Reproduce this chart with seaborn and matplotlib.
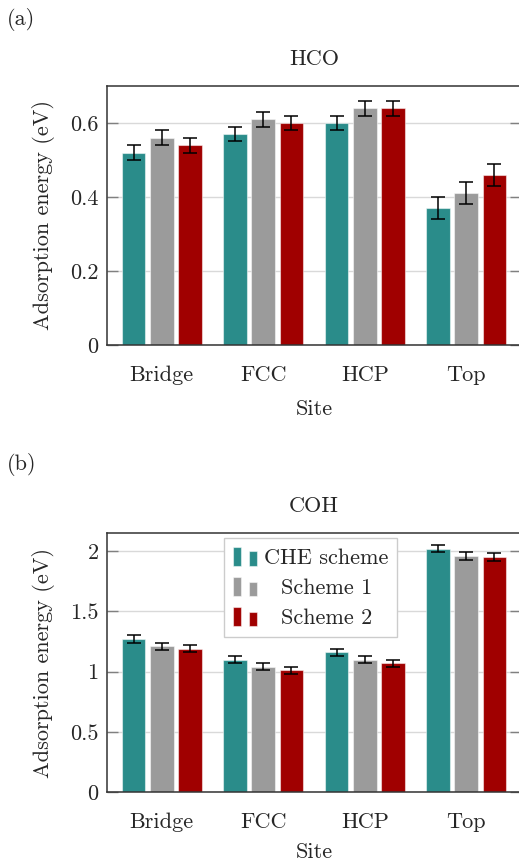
import pandas as pd
import seaborn as sns
import matplotlib.pyplot as plt
from matplotlib.patches import Rectangle
from matplotlib.legend_handler import HandlerBase
from matplotlib.offsetbox import HPacker, DrawingArea
from matplotlib.ticker import FuncFormatter

# Datos
sites = ["Bridge", "FCC", "HCP", "Top"]
schemes = ["CHE scheme", "Scheme 1", "Scheme 2"]

hco_che = [0.52, 0.57, 0.60, 0.37]
hco_s1 = [0.56, 0.61, 0.64, 0.41]
hco_s2 = [0.54, 0.60, 0.64, 0.46]
hco_err_che = [0.02, 0.02, 0.02, 0.03]
hco_err_s1 = [0.02, 0.02, 0.02, 0.03]
hco_err_s2 = [0.02, 0.02, 0.02, 0.03]

coh_che = [1.27, 1.10, 1.16, 2.02]
coh_s1 = [1.21, 1.04, 1.10, 1.96]
coh_s2 = [1.19, 1.01, 1.07, 1.95]
coh_err_che = [0.03, 0.03, 0.03, 0.03]
coh_err_s1 = [0.03, 0.03, 0.03, 0.03]
coh_err_s2 = [0.03, 0.03, 0.03, 0.03]

colores = ["#2a8c8a", "#9b9b9b", "#a00000"]

sns.set_style("white")
plt.rcParams["font.family"] = ["cmr10", "DejaVu Serif"]
plt.rcParams["axes.formatter.use_mathtext"] = True
plt.rcParams["font.size"] = 16


def armar_df(che, s1, s2, e_che, e_s1, e_s2):
    filas = []
    for nombre, vals, errs in zip(schemes, [che, s1, s2], [e_che, e_s1, e_s2]):
        for s, v, e in zip(sites, vals, errs):
            filas.append({"Site": s, "Scheme": nombre, "Energy": v, "Err": e})
    return pd.DataFrame(filas)


class DosBarras(HandlerBase):
    # dos barritas por entrada, como en la leyenda ybar de pgfplots
    def create_artists(self, legend, orig_handle, xdescent, ydescent,
                       width, height, fontsize, trans):
        c = orig_handle.get_facecolor()
        w = width * 0.34
        r1 = Rectangle((-xdescent, -ydescent), w, height, facecolor=c,
                       edgecolor=(1, 1, 1, 0.5), lw=0.8, transform=trans)
        r2 = Rectangle((-xdescent + width - w, -ydescent), w, height * 0.76,
                       facecolor=c, edgecolor=(1, 1, 1, 0.5), lw=0.8,
                       transform=trans)
        return [r1, r2]


def dibujar(ax, df, ylim, yticks, titulo, pad_site):
    ax.set_axisbelow(True)
    ax.yaxis.grid(True, color="#d9d9d9", lw=1)
    sns.barplot(data=df, x="Site", y="Energy", hue="Scheme", order=sites,
                hue_order=schemes, palette=colores, saturation=1,
                width=0.83, gap=0.16, errorbar=None,
                edgecolor=(1, 1, 1, 0.5), linewidth=0.8,
                legend=False, ax=ax)
    # barras ordenadas por posicion: sitio, luego esquema
    barras = sorted(ax.patches, key=lambda p: p.get_x())
    orden = df.set_index(["Site", "Scheme"]).loc[
        [(s, h) for s in sites for h in schemes]]
    xs = [p.get_x() + p.get_width() / 2 for p in barras]
    ax.errorbar(xs, orden["Energy"].values, yerr=orden["Err"].values,
                fmt="none", ecolor="black", elinewidth=1.1, capsize=5,
                capthick=1.1, zorder=5)
    ax.set_xlim(-0.54, 3.54)
    ax.set_ylim(*ylim)
    ax.set_yticks(yticks)
    ax.yaxis.set_major_formatter(FuncFormatter(lambda v, p: "%g" % v))
    ax.tick_params(axis="y", which="both", direction="in", length=8,
                   color="#808080", width=1, left=True, right=True, pad=6,
                   labelsize=16)
    ax.tick_params(axis="x", length=0, pad=15, labelsize=16)
    for lado in ["top", "left", "bottom"]:
        ax.spines[lado].set_color("#333333")
        ax.spines[lado].set_linewidth(1.1)
    ax.spines["right"].set_visible(False)
    ax.set_title(titulo, fontsize=16, pad=15)
    ax.set_xlabel("Site", fontsize=16, labelpad=pad_site)
    ax.set_ylabel("Adsorption energy (eV)", fontsize=16, labelpad=11)


fig = plt.figure(figsize=(5.19, 8.64), dpi=100)
ax1 = fig.add_axes([0.206, 0.6007, 0.798, 0.2998])
ax2 = fig.add_axes([0.206, 0.0833, 0.798, 0.2998])

df_hco = armar_df(hco_che, hco_s1, hco_s2, hco_err_che, hco_err_s1, hco_err_s2)
df_coh = armar_df(coh_che, coh_s1, coh_s2, coh_err_che, coh_err_s1, coh_err_s2)

dibujar(ax1, df_hco, (0, 0.7), [0, 0.2, 0.4, 0.6], "HCO", 10)
dibujar(ax2, df_coh, (0, 2.15), [0, 0.5, 1, 1.5, 2], "COH", 7)

manijas = [Rectangle((0, 0), 1, 1, facecolor=c) for c in colores]
leg = ax2.legend(manijas, schemes, handler_map={Rectangle: DosBarras()},
                 loc="upper left", bbox_to_anchor=(0.283, 0.981),
                 borderaxespad=0, fancybox=False, framealpha=1,
                 edgecolor="#cccccc", handlelength=1.1, handleheight=0.95,
                 handletextpad=0.3, labelspacing=0.4, borderpad=0.4,
                 fontsize=16)
leg.get_frame().set_linewidth(1)

# centrar los textos de la leyenda (como pgfplots)
rend = fig.canvas.get_renderer()
anchos = [t.get_window_extent(rend).width for t in leg.get_texts()]
puntos = 72.0 / fig.dpi
for fila, ancho in zip(leg._legend_handle_box.get_children()[0].get_children(), anchos):
    hijos = fila.get_children()
    relleno = (max(anchos) - ancho) / 2 * puntos
    if relleno > 0:
        hijos[1] = HPacker(pad=0, sep=0, align="baseline",
                           children=[DrawingArea(relleno, 1), hijos[1]])

fig.text(0.0135, 0.978, "(a)", fontsize=16, va="center", ha="left")
fig.text(0.0135, 0.462, "(b)", fontsize=16, va="center", ha="left")

fig.savefig("out.png", dpi=100)
